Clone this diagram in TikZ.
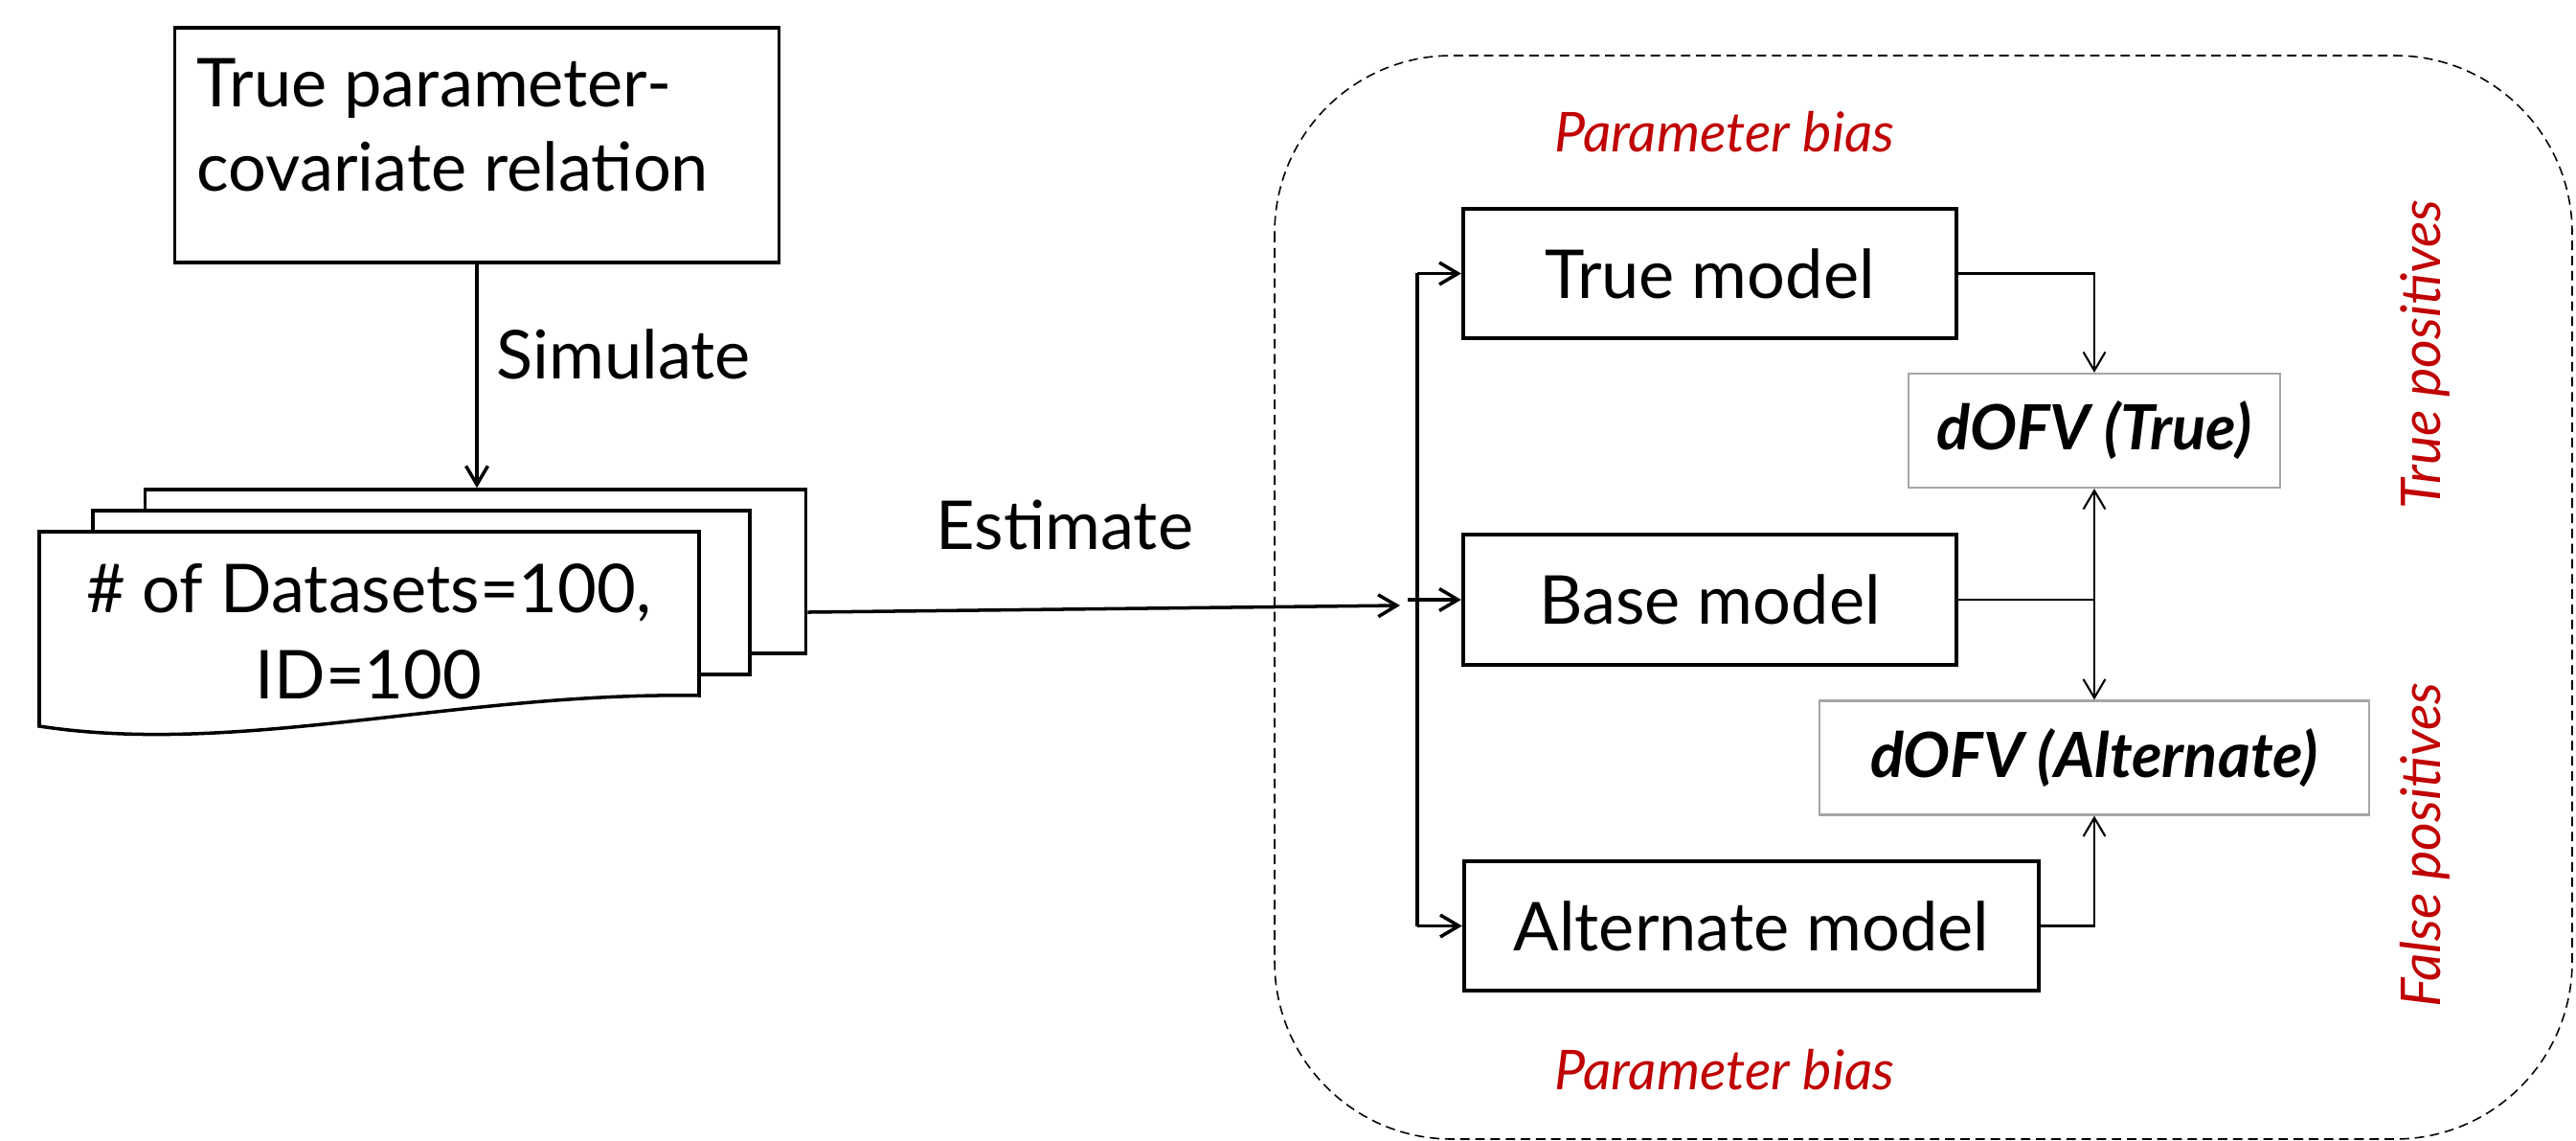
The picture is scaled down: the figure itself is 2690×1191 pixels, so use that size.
\documentclass[tikz,border=0pt]{standalone}
\usepackage{fontspec}
\setmainfont{Lato}
\usetikzlibrary{arrows.meta}
\definecolor{biasred}{RGB}{192,0,0}
\definecolor{boxgray}{RGB}{166,166,166}

\begin{document}
\begin{tikzpicture}[x=0.01cm,y=-0.01cm,
  mainfont/.style={font=\fontsize{20}{24}\selectfont},
  modelbox/.style={draw=black,line width=1.15pt,fill=white,inner sep=0pt,
    minimum height=1.35cm,mainfont},
  dofvbox/.style={draw=boxgray,line width=0.6pt,fill=white,inner sep=0pt,
    minimum height=1.19cm,font=\fontsize{18.5}{22}\selectfont\bfseries\itshape},
  page/.style={draw=black,line width=1pt,fill=white,inner sep=0pt,
    minimum width=6.9cm,minimum height=1.71cm},
  plain/.style={inner sep=0pt,mainfont},
  redlabel/.style={inner sep=0pt,text=biasred,font=\fontsize{16.3}{20}\selectfont\itshape},
  poslabel/.style={inner sep=0pt,text=biasred,font=\fontsize{16.3}{20}\selectfont\itshape},
  barb/.style={-{Straight Barb[length=5.5pt,width=6.5pt]}},
  thickline/.style={line width=1pt},
  thinline/.style={line width=0.6pt},
  groupline/.style={line width=0.45pt,dash pattern=on 2.8pt off 1.7pt,rounded corners=1.85cm}
]
\useasboundingbox (0,0) rectangle (2690,1191);

% dashed group around the models
\draw[groupline] (1331,58) rectangle (2686,1189);

% source relation
\node[draw=black,line width=0.95pt,fill=white,inner sep=0pt,
      minimum width=6.3cm,minimum height=2.45cm] (truerel) at (498,151.5) {};
\node[plain,anchor=base west] (trl1) at (205,112) {True parameter-};
\node[plain,anchor=base west] (trl2) at (205,200) {covariate relation};

% stack of simulated datasets
\node[page] (docback) at (496.5,596.5) {};
\node[page,minimum width=6.86cm] (docmid) at (440,618.5) {};
\draw[line width=1pt,fill=white] (41,555) -- (730,555) -- (730,726)
  .. controls (480,722) and (250,790) .. (41,758) -- cycle;
\node[plain,anchor=base] (doct1) at (385,639) {\# of Datasets=100,};
\node[plain,anchor=base] (doct2) at (385,729) {ID=100};

% simulate arrow
\draw[thickline,barb] (truerel.south) -- (truerel.south |- docback.north);
\node[plain,anchor=base west] (simlab) at (518,395) {Simulate};

% models
\node[modelbox,minimum width=5.15cm] (truem) at (1785.5,285.5) {True model};
\node[modelbox,minimum width=5.15cm] (basem) at (1785.5,626) {Base model};
\node[modelbox,minimum width=6.0cm] (altm) at (1829,966.5) {Alternate model};

% dOFV boxes
\node[dofvbox,minimum width=3.88cm] (dofvT) at (2187,449.5) {dOFV (True)};
\node[dofvbox,minimum width=5.74cm] (dofvA) at (2187,791) {dOFV (Alternate)};

% estimate arrow and distribution bus
\coordinate (hub) at (1462,632);
\coordinate (bus) at (1480,0);
\coordinate (stub) at (1470,0);
\draw[thickline,barb] ([yshift=-0.425cm]docback.east) -- (hub);
\node[plain,anchor=base west] (estlab) at (977,573) {Estimate};
\draw[line width=1.15pt] (truem.west -| bus) -- (altm.west -| bus);
\draw[thickline,barb] (truem.west -| bus) -- (truem.west);
\draw[thickline,barb] (basem.west -| stub) -- (basem.west);
\draw[thickline,barb] (altm.west -| bus) -- (altm.west);

% comparisons
\coordinate (junc) at (basem.east -| dofvT.south);
\draw[thinline,barb] (truem.east) -| (dofvT.north);
\draw[thinline] (basem.east) -- (junc);
\draw[thinline,barb] (junc) -- (dofvT.south);
\draw[thinline,barb] (junc) -- (dofvA.north);
\draw[thinline,barb] (altm.east) -| (dofvA.south);

% outcome labels
\node[redlabel,anchor=base] (biastop) at (1801,159) {Parameter bias};
\node[redlabel,anchor=base] (biasbot) at (1801,1137) {Parameter bias};
\node[poslabel,rotate=90,anchor=base] (tpos) at (2548,370) {True positives};
\node[poslabel,rotate=90,anchor=base] (fpos) at (2548,882) {False positives};
\end{tikzpicture}
\end{document}
